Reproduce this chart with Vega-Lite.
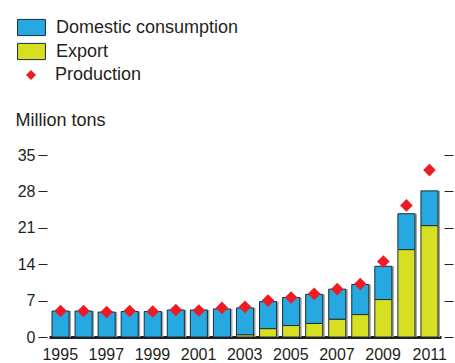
{
  "$schema": "https://vega.github.io/schema/vega-lite/v6.json",
  "autosize": {"type": "none"},
  "width": 392,
  "height": 182,
  "padding": {"left": 49, "top": 155, "right": 14, "bottom": 26},
  "background": "white",
  "config": {
    "font": "Liberation Sans",
    "view": {"stroke": null},
    "axis": {"labelColor": "#231f20", "labelFontSize": 16, "titleColor": "#231f20", "tickColor": "#231f20", "grid": false}
  },
  "data": {
    "values": [
      {"year": 1995, "series": "Domestic consumption", "value": 5.0},
      {"year": 1995, "series": "Production", "value": 5.0},
      {"year": 1996, "series": "Domestic consumption", "value": 5.0},
      {"year": 1996, "series": "Production", "value": 5.0},
      {"year": 1997, "series": "Domestic consumption", "value": 4.8},
      {"year": 1997, "series": "Production", "value": 4.8},
      {"year": 1998, "series": "Domestic consumption", "value": 4.9},
      {"year": 1998, "series": "Production", "value": 5.0},
      {"year": 1999, "series": "Domestic consumption", "value": 4.9},
      {"year": 1999, "series": "Production", "value": 4.9},
      {"year": 2000, "series": "Domestic consumption", "value": 5.2},
      {"year": 2000, "series": "Production", "value": 5.2},
      {"year": 2001, "series": "Domestic consumption", "value": 5.2},
      {"year": 2001, "series": "Production", "value": 5.1},
      {"year": 2002, "series": "Domestic consumption", "value": 5.4},
      {"year": 2002, "series": "Production", "value": 5.6},
      {"year": 2003, "series": "Domestic consumption", "value": 5.2},
      {"year": 2003, "series": "Export", "value": 0.4},
      {"year": 2003, "series": "Production", "value": 5.8},
      {"year": 2004, "series": "Domestic consumption", "value": 5.2},
      {"year": 2004, "series": "Export", "value": 1.6},
      {"year": 2004, "series": "Production", "value": 7.0},
      {"year": 2005, "series": "Domestic consumption", "value": 5.4},
      {"year": 2005, "series": "Export", "value": 2.2},
      {"year": 2005, "series": "Production", "value": 7.6},
      {"year": 2006, "series": "Domestic consumption", "value": 5.6},
      {"year": 2006, "series": "Export", "value": 2.6},
      {"year": 2006, "series": "Production", "value": 8.3},
      {"year": 2007, "series": "Domestic consumption", "value": 5.8},
      {"year": 2007, "series": "Export", "value": 3.4},
      {"year": 2007, "series": "Production", "value": 9.2},
      {"year": 2008, "series": "Domestic consumption", "value": 5.8},
      {"year": 2008, "series": "Export", "value": 4.3},
      {"year": 2008, "series": "Production", "value": 10.2},
      {"year": 2009, "series": "Domestic consumption", "value": 6.4},
      {"year": 2009, "series": "Export", "value": 7.2},
      {"year": 2009, "series": "Production", "value": 14.5},
      {"year": 2010, "series": "Domestic consumption", "value": 6.9},
      {"year": 2010, "series": "Export", "value": 16.8},
      {"year": 2010, "series": "Production", "value": 25.3},
      {"year": 2011, "series": "Domestic consumption", "value": 6.7},
      {"year": 2011, "series": "Export", "value": 21.4},
      {"year": 2011, "series": "Production", "value": 32.1}
    ]
  },
  "layer": [
    {
      "transform": [{"filter": "datum.series !== 'Production'"}],
      "mark": {"type": "bar", "color": "#a3a3a3", "xOffset": 2},
      "encoding": {
        "x": {"field": "year", "type": "ordinal"},
        "y": {"field": "value", "type": "quantitative", "stack": "zero", "axis": null},
        "detail": {"field": "series"},
        "order": {"field": "series", "sort": "descending"}
      }
    },
    {
      "transform": [{"filter": "datum.series !== 'Production'"}],
      "mark": {"type": "bar", "stroke": "#1c2e38", "strokeWidth": 1},
      "encoding": {
        "x": {
          "field": "year", "type": "ordinal",
          "scale": {"paddingInner": 0.26, "paddingOuter": 0.13},
          "axis": {
            "title": null, "labelAngle": 0, "domainWidth": 3, "domainColor": "#231f20",
            "tickSize": -4, "tickWidth": 1, "tickBand": "extent",
            "labelPadding": 21, "labelOffset": 17, "labelFontSize": 16,
            "labelExpr": "datum.value % 2 == 1 ? datum.label : ''"
          }
        },
        "y": {
          "field": "value", "type": "quantitative", "stack": "zero",
          "scale": {"domain": [0, 35], "nice": false},
          "axis": {
            "orient": "left", "values": [0, 7, 14, 21, 28, 35], "domain": false,
            "tickSize": 9, "tickWidth": 1, "offset": 2, "labelPadding": 3,
            "title": "Million tons", "titleAngle": 0, "titleAlign": "left", "titleBaseline": "middle",
            "titleX": -32, "titleY": -35, "titleFontSize": 18, "titleFontWeight": "normal"
          }
        },
        "color": {
          "field": "series", "type": "nominal",
          "scale": {"domain": ["Domestic consumption", "Export"], "range": ["#25a9e0", "#d7df23"]},
          "legend": {
            "title": null, "orient": "none", "legendX": -27, "legendY": -137,
            "symbolSize": 324, "symbolType": "M-1.55,-0.9H1.55V0.9H-1.55Z",
            "symbolStrokeColor": "#1c2e38", "symbolStrokeWidth": 1, "symbolOpacity": 1,
            "labelOffset": 15, "rowPadding": 3, "padding": 0,
            "labelFontSize": 18, "labelColor": "#231f20", "labelLimit": 400
          }
        },
        "order": {"field": "series", "sort": "descending"}
      }
    },
    {
      "transform": [{"filter": "datum.series === 'Production'"}],
      "mark": {"type": "point", "shape": "diamond", "filled": true, "size": 160, "opacity": 1, "color": "#ed1c24"},
      "encoding": {
        "x": {"field": "year", "type": "ordinal"},
        "y": {
          "field": "value", "type": "quantitative",
          "axis": {"orient": "right", "values": [0, 7, 14, 21, 28, 35], "labels": false, "domain": false, "tickSize": 9, "tickWidth": 1, "offset": 3, "title": null}
        },
        "shape": {
          "field": "series", "type": "nominal",
          "scale": {"domain": ["Production"], "range": ["diamond"]},
          "legend": {
            "title": null, "orient": "none", "legendX": -27, "legendY": -89,
            "symbolSize": 100, "symbolFillColor": "#ed1c24", "symbolStrokeWidth": 0, "symbolOpacity": 1,
            "labelOffset": 15, "padding": 0,
            "labelFontSize": 18, "labelColor": "#231f20", "labelLimit": 400
          }
        }
      }
    }
  ],
  "resolve": {"axis": {"y": "independent"}}
}
